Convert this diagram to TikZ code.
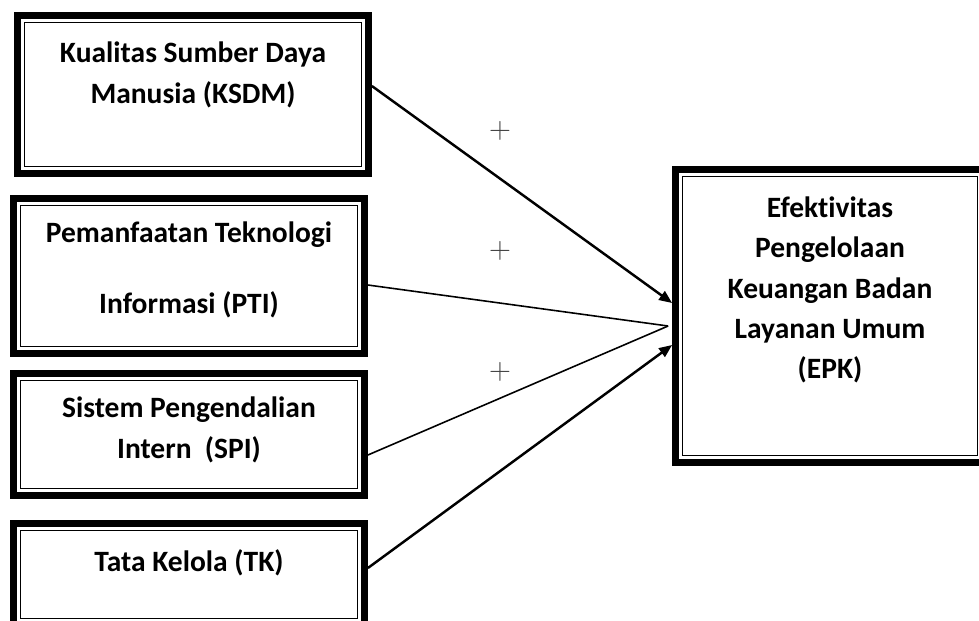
\documentclass[tikz,border=0pt]{standalone}
\usepackage{fontspec}
\setmainfont{Carlito}[Ligatures=CommonOff]
\usepackage{tikz}
\usetikzlibrary{arrows.meta}

\tikzset{
	varbox/.style={draw, line width=3.9pt, minimum width=7.02cm},
	innerline/.style={line width=0.85pt},
	boxtext/.style={font=\bfseries\fontsize{16.8}{23}\selectfont, align=center},
	plus/.style={text=black!75, font=\fontsize{18}{20}\selectfont},
	link/.style={line width=1.4pt, -{Triangle[length=0.26cm, width=0.21cm]}},
	plain/.style={line width=0.9pt}
}

\begin{document}
\begin{tikzpicture}[x=0.02cm, y=-0.02cm]
	\useasboundingbox (0,0) rectangle (979,620);
	\clip (0,0) rectangle (979,620);

	% Boxes
	\node[varbox, minimum height=3.16cm] (ksdm) at (193,94.5) {};
	\node[varbox, minimum height=3.10cm] (pti) at (189,276) {};
	\node[varbox, minimum height=2.44cm] (spi) at (189,434.5) {};
	\node[varbox, minimum height=2.04cm] (tk) at (189,574.5) {};
	\node[varbox, minimum width=6.18cm, minimum height=5.86cm] (epk) at (830,316) {};

	% Inner thin frames
	\foreach \n in {ksdm,pti,spi,tk,epk}
		\draw[innerline] ([shift={(0.21cm,-0.21cm)}]\n.north west)
			rectangle ([shift={(-0.21cm,0.21cm)}]\n.south east);

	% Box texts
	\node[boxtext] (ksdmtext) at (193,75) {Kualitas Sumber Daya\\Manusia (KSDM)};
	\node[boxtext] (ptitext) at (189,270) {Pemanfaatan Teknologi\\[17pt]Informasi (PTI)};
	\node[boxtext] (spitext) at (189,430) {Sistem Pengendalian\\Intern \ (SPI)};
	\node[boxtext] (tktext) at (189,563) {Tata Kelola (TK)};
	\node[boxtext] (epktext) at (830,290)
		{Efektivitas\\Pengelolaan\\Keuangan Badan\\Layanan Umum\\(EPK)};

	% Connectors
	\coordinate (meet) at ([xshift=-0.08cm, yshift=-0.2cm]epk.west);
	\draw[link] ([yshift=0.17cm]ksdm.east) -- ([yshift=0.26cm]epk.west);
	\draw[plain] ([yshift=-0.18cm]pti.east) -- (meet);
	\draw[plain] ([yshift=-0.41cm]spi.east) -- (meet);
	\draw[link] ([yshift=0.13cm]tk.east) -- ([yshift=-0.58cm]epk.west);

	% Signs
	\node[plus] (plus1) at (500,131) {$+$};
	\node[plus] (plus2) at (500,251) {$+$};
	\node[plus] (plus3) at (500,372) {$+$};
\end{tikzpicture}
\end{document}
